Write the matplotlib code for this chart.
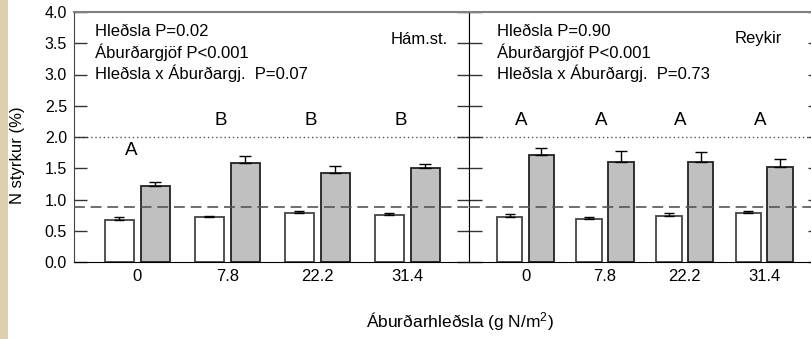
import numpy as np
import matplotlib
matplotlib.use('Agg')
import matplotlib.pyplot as plt
from matplotlib.patches import Rectangle

plt.rcParams['font.family'] = ['Liberation Sans', 'DejaVu Sans']
plt.rcParams['mathtext.default'] = 'regular'

# Data
skammtar = ['0', '7.8', '22.2', '31.4']

# Hámundarstaðir
ham_hvit = [0.68, 0.715, 0.78, 0.757]
ham_hvit_se = [0.045, 0.015, 0.04, 0.025]
ham_gra = [1.22, 1.58, 1.43, 1.51]
ham_gra_se = [0.065, 0.12, 0.10, 0.06]
ham_stafir = ['A', 'B', 'B', 'B']
ham_stafir_y = [1.78, 2.26, 2.26, 2.26]
ham_texti = ['Hleðsla P=0.02', 'Áburðargjöf P<0.001', 'Hleðsla x Áburðargj.  P=0.07']

# Reykir
rey_hvit = [0.725, 0.69, 0.74, 0.78]
rey_hvit_se = [0.04, 0.035, 0.045, 0.03]
rey_gra = [1.71, 1.595, 1.595, 1.52]
rey_gra_se = [0.12, 0.185, 0.16, 0.13]
rey_stafir = ['A', 'A', 'A', 'A']
rey_stafir_y = [2.26, 2.26, 2.26, 2.26]
rey_texti = ['Hleðsla P=0.90', 'Áburðargjöf P<0.001', 'Hleðsla x Áburðargj.  P=0.73']

vidmid_lagt = 0.88
vidmid_hatt = 2.0

fig = plt.figure(figsize=(8.12, 3.39), dpi=100)
fig.patches.append(Rectangle((0, 0), 8 / 812, 1, transform=fig.transFigure,
                             facecolor='#ddd0ae', edgecolor='none', zorder=0))

ax1 = fig.add_axes([74 / 812, 77 / 339, 395 / 812, 250 / 339])
ax2 = fig.add_axes([469 / 812, 77 / 339, 351 / 812, 250 / 339])


def teikna(ax, hvit, hvit_se, gra, gra_se, stafir, stafir_y, texti, stadur,
           xlim, stafur_dx, texti_x, stadur_xy):
    x = np.arange(len(skammtar))
    w = 0.32
    ax.bar(x - 0.2, hvit, w, color='white', edgecolor='#444444', linewidth=1.3, zorder=2)
    ax.bar(x + 0.2, gra, w, color='#c0c0c0', edgecolor='#222222', linewidth=1.3, zorder=2)
    ax.errorbar(x - 0.2, hvit, yerr=[np.zeros(len(x)), hvit_se], fmt='none',
                ecolor='black', elinewidth=1, capsize=3.5, capthick=1, zorder=3)
    ax.errorbar(x + 0.2, gra, yerr=[np.zeros(len(x)), gra_se], fmt='none',
                ecolor='black', elinewidth=1, capsize=4, capthick=1, zorder=3)
    ax.axhline(vidmid_lagt, color='#555555', lw=1.2, ls=(0, (6.5, 3.5)), zorder=4)
    ax.axhline(vidmid_hatt, color='#555555', lw=1, ls=(0, (1, 2)), zorder=1)
    for i, (s, sy) in enumerate(zip(stafir, stafir_y)):
        ax.text(i + stafur_dx, sy, s, ha='center', va='center', fontsize=13.5)
    for j, t in enumerate(texti):
        ax.text(texti_x, 0.92 - j * 0.082, t, transform=ax.transAxes, ha='left',
                va='center', fontsize=12)
    ax.text(stadur_xy[0], stadur_xy[1], stadur, transform=ax.transAxes, ha='right',
            va='center', fontsize=12)
    ax.set_xlim(*xlim)
    ax.set_ylim(0, 4)
    ax.set_xticks(x)
    ax.set_xticklabels(skammtar, fontsize=12)
    ax.set_yticks(np.arange(0, 4.01, 0.5))
    ax.tick_params(axis='x', length=0, pad=5)
    ax.tick_params(axis='y', direction='in', length=9, width=1, color='#333333',
                   left=True, right=True, labelsize=11.5, pad=5)
    ax.spines['top'].set_color('#808080')
    ax.spines['top'].set_linewidth(1.5)
    ax.spines['bottom'].set_color('black')
    ax.spines['left'].set_color('black')
    ax.spines['right'].set_color('black')


teikna(ax1, ham_hvit, ham_hvit_se, ham_gra, ham_gra_se, ham_stafir, ham_stafir_y,
       ham_texti, 'Hám.st.', (-0.706, 3.687), -0.07, 0.053, (0.947, 0.888))
ax1.set_yticklabels(['%.1f' % v for v in np.arange(0, 4.01, 0.5)])
ax1.spines['left'].set_color('#444444')

teikna(ax2, rey_hvit, rey_hvit_se, rey_gra, rey_gra_se, rey_stafir, rey_stafir_y,
       rey_texti, 'Reykir', (-0.71, 3.70), -0.05, 0.08, (0.892, 0.896))
ax2.tick_params(axis='y', labelleft=False)

fig.text(18 / 812, 0.543, 'N styrkur (%)', rotation=90, ha='center', va='center',
         fontsize=12)
fig.text(460 / 812, 0.05, 'Áburðarhleðsla (g N/m$^{2}$)', ha='center', va='center',
         fontsize=12.5)

fig.savefig('out.png', dpi=100)
